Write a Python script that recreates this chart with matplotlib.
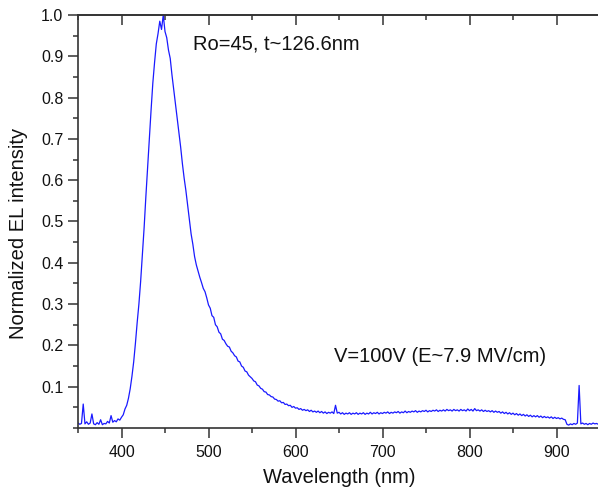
import numpy as np
import matplotlib
matplotlib.use("Agg")
import matplotlib.pyplot as plt
from matplotlib.ticker import MultipleLocator

# Wavelength grid (nm), 2 nm steps from 350 to 950
wavelength = np.arange(350, 951, 2)

# Normalized EL intensity
intensity = [
    0.012, 0.009, 0.011, 0.058, 0.010, 0.015, 0.009, 0.012, 0.034, 0.010,
    0.008, 0.013, 0.009, 0.020, 0.008, 0.011, 0.010, 0.016, 0.012, 0.030,
    0.014, 0.018, 0.015, 0.022, 0.019, 0.026, 0.032, 0.046, 0.055, 0.072,
    0.095, 0.125, 0.160, 0.205, 0.255, 0.300, 0.355, 0.420, 0.485, 0.560,
    0.630, 0.700, 0.770, 0.835, 0.885, 0.930, 0.955, 0.985, 0.965, 1.000,
    0.960, 0.945, 0.915, 0.895, 0.855, 0.820, 0.785, 0.750, 0.715, 0.680,
    0.640, 0.605, 0.575, 0.540, 0.505, 0.470, 0.445, 0.415, 0.395, 0.380,
    0.365, 0.352, 0.338, 0.330, 0.315, 0.298, 0.290, 0.272, 0.268, 0.250,
    0.245, 0.232, 0.228, 0.215, 0.212, 0.204, 0.198, 0.196, 0.186, 0.182,
    0.175, 0.172, 0.162, 0.160, 0.150, 0.147, 0.138, 0.136, 0.128, 0.124,
    0.120, 0.114, 0.112, 0.104, 0.102, 0.096, 0.094, 0.088, 0.087, 0.081,
    0.080, 0.076, 0.075, 0.070, 0.069, 0.065, 0.066, 0.061, 0.062, 0.057,
    0.058, 0.054, 0.055, 0.050, 0.052, 0.048, 0.049, 0.045, 0.047, 0.043,
    0.045, 0.042, 0.044, 0.040, 0.043, 0.039, 0.041, 0.038, 0.041, 0.037,
    0.040, 0.036, 0.039, 0.035, 0.038, 0.036, 0.039, 0.035, 0.055, 0.036,
    0.038, 0.034, 0.037, 0.033, 0.036, 0.034, 0.037, 0.033, 0.036, 0.034,
    0.037, 0.033, 0.036, 0.034, 0.037, 0.033, 0.036, 0.034, 0.038, 0.034,
    0.037, 0.035, 0.038, 0.034, 0.037, 0.035, 0.038, 0.036, 0.039, 0.035,
    0.038, 0.036, 0.039, 0.037, 0.040, 0.036, 0.039, 0.037, 0.041, 0.037,
    0.040, 0.038, 0.041, 0.039, 0.042, 0.038, 0.041, 0.039, 0.042, 0.040,
    0.043, 0.039, 0.042, 0.040, 0.043, 0.041, 0.044, 0.040, 0.043, 0.041,
    0.044, 0.041, 0.045, 0.042, 0.044, 0.041, 0.045, 0.042, 0.044, 0.041,
    0.045, 0.042, 0.044, 0.041, 0.046, 0.042, 0.045, 0.041, 0.047, 0.042,
    0.044, 0.041, 0.044, 0.040, 0.043, 0.040, 0.042, 0.039, 0.042, 0.038,
    0.041, 0.038, 0.040, 0.036, 0.039, 0.035, 0.038, 0.034, 0.037, 0.033,
    0.036, 0.032, 0.035, 0.031, 0.034, 0.030, 0.033, 0.029, 0.032, 0.028,
    0.031, 0.027, 0.030, 0.027, 0.030, 0.026, 0.029, 0.025, 0.028, 0.025,
    0.027, 0.024, 0.027, 0.023, 0.026, 0.023, 0.025, 0.022, 0.024, 0.021,
    0.020, 0.009, 0.007, 0.010, 0.008, 0.011, 0.009, 0.012, 0.103, 0.010,
    0.012, 0.009, 0.011, 0.008, 0.011, 0.009, 0.012, 0.010, 0.011, 0.009,
    0.010,
]

x_ticks = [400, 500, 600, 700, 800, 900]
y_ticks = [0.1, 0.2, 0.3, 0.4, 0.5, 0.6, 0.7, 0.8, 0.9, 1.0]
label_x = "Wavelength (nm)"
label_y = "Normalized EL intensity"
note_top = "Ro=45, t~126.6nm"
note_mid = "V=100V (E~7.9 MV/cm)"

plt.rcParams['font.family'] = ['Liberation Sans', 'DejaVu Sans']

fig = plt.figure(figsize=(5.98, 4.92), dpi=100)
ax = fig.add_axes([78/598, 1 - 428/492, 522/598, (428 - 15)/492])

ax.plot(wavelength, intensity, color='#1a1aff', lw=0.9)

ax.set_xlim(350, 950)
ax.set_ylim(0, 1.0)
ax.set_xticks(x_ticks)
ax.set_yticks(y_ticks)
ax.set_yticklabels([f"{v:.1f}" for v in y_ticks])
ax.xaxis.set_minor_locator(MultipleLocator(50))
ax.yaxis.set_minor_locator(MultipleLocator(0.05))

spine_c = '#333333'
for s in ['left', 'bottom', 'top']:
    ax.spines[s].set_color(spine_c)
    ax.spines[s].set_linewidth(1.2)
ax.spines['right'].set_visible(False)

ax.tick_params(axis='both', which='major', direction='out', length=7, width=1.1,
               color=spine_c, labelsize=11.5, labelcolor='#111111')
ax.tick_params(axis='both', which='minor', direction='out', length=3.8, width=1.1,
               color=spine_c)
ax.tick_params(axis='x', which='major', pad=5)
ax.tick_params(axis='x', which='both', top=False)

# Top axis ticks pointing inward
secx = ax.secondary_xaxis('top')
secx.set_xticks(x_ticks)
secx.xaxis.set_minor_locator(MultipleLocator(50))
secx.tick_params(which='major', direction='in', length=7, width=1.1, color=spine_c, labeltop=False)
secx.tick_params(which='minor', direction='in', length=3.8, width=1.1, color=spine_c)
secx.spines['top'].set_color(spine_c)
secx.spines['top'].set_linewidth(1.2)

ax.set_xlabel(label_x, fontsize=14.5, color='#111111', labelpad=6)
ax.set_ylabel(label_y, fontsize=14.5, color='#111111')
ax.yaxis.set_label_coords(-0.095, 0.47)

ax.text(482, 0.929, note_top, fontsize=14.5, color='#111111', va='center', ha='left')
ax.text(644, 0.173, note_mid, fontsize=14.5, color='#111111', va='center', ha='left')

fig.savefig('out.png', dpi=100, facecolor='white')
